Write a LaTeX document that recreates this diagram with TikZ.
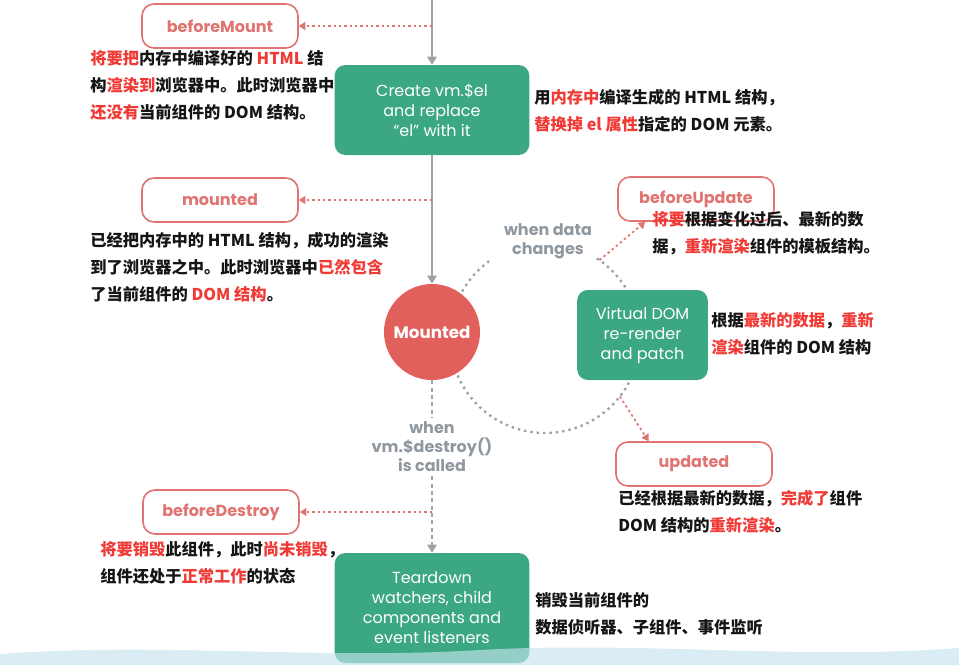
\documentclass[tikz,border=0pt]{standalone}
\usepackage{fontspec}
\setmainfont{Poppins}
\newfontfamily\cjk{Noto Sans CJK SC}
\usetikzlibrary{arrows.meta,positioning}

\definecolor{stagegreen}{HTML}{3CA881}
\definecolor{momentred}{HTML}{E2605B}
\definecolor{hookred}{HTML}{E07470}
\definecolor{hotred}{HTML}{F03A36}
\definecolor{flowgray}{HTML}{9CA3A9}
\definecolor{condgray}{HTML}{8F979F}
\definecolor{notetext}{HTML}{151515}
\definecolor{wavecolor}{HTML}{C6E2EE}

\newcommand\hot[1]{\textcolor{hotred}{#1}}

\begin{document}
\begin{tikzpicture}[x=0.75pt, y=-0.75pt,
    stage/.style={fill=stagegreen, rounded corners=8pt, text=white, align=center,
        minimum width=146pt, minimum height=67.5pt, font=\fontsize{12}{15}\selectfont},
    moment/.style={circle, fill=momentred, text=white, minimum size=72pt, inner sep=0pt,
        font=\bfseries\fontsize{12.5}{15}\selectfont},
    hook/.style={draw=hookred, fill=white, line width=1.2pt, rounded corners=9pt,
        minimum width=117pt, minimum height=33pt, text=hookred,
        font=\bfseries\fontsize{12}{15}\selectfont},
    note/.style={anchor=north west, inner sep=0pt, align=left, text=notetext,
        font=\cjk\bfseries\fontsize{12.2}{20.25}\selectfont},
    cond/.style={text=condgray, align=center, inner sep=3pt,
        font=\bfseries\fontsize{12}{14.25}\selectfont},
    flow/.style={draw=flowgray, line width=1.5pt, -{Triangle[length=6pt,width=7pt]}},
    gone/.style={draw=flowgray, line width=1.2pt, dash pattern=on 3pt off 2.5pt},
    hookline/.style={draw=hookred, line width=1.3pt, dash pattern=on 1.8pt off 2.2pt,
        -{Triangle[length=5pt,width=6pt]}},
    loopline/.style={draw=flowgray, line width=1.8pt, dash pattern=on 1.8pt off 3pt}]

    \useasboundingbox (0,0) rectangle (959,665);

    % data-change cycle round Mounted and re-render
    \coordinate (cyc) at (545,338);
    \draw[loopline] (cyc) ++(126:71.25pt) arc[start angle=126, end angle=419, radius=71.25pt];
    \path (cyc) ++(55:71.25pt) coordinate (cycup);
    \path (cyc) ++(-38:71.25pt) coordinate (cycdown);
    \node[cond] (datachange) at (548,241) {when data\\changes};

    % stages
    \node[stage] (create) at (432,110) {Create vm.\$el\\and replace\\“el” with it};
    \node[moment] (mounted) at (432,332) {Mounted};
    \node[stage, minimum width=98pt] (vdom) at (642.5,335) {Virtual DOM\\re-render\\and patch};
    \node[stage, minimum height=82.5pt] (teardown) at (432,608) {Teardown\\watchers, child\\components and\\event listeners};
    \node[cond] (destroy) at (432,447) {when\\vm.\$destroy()\\is called};

    % main flow
    \coordinate (start) at (432,0);
    \draw[flow] (start) -- (create);
    \draw[flow] (create) -- (mounted);
    \draw[gone] (mounted) -- (destroy);
    \draw[gone, -{Triangle[length=6pt,width=7pt]}] (destroy) -- (teardown);

    % lifecycle hooks
    \node[hook] (beforeMount) at (220,26) {beforeMount};
    \node[hook] (mountedhook) at (220,200) {mounted};
    \node[hook] (beforeUpdate) at (696,199) {beforeUpdate};
    \node[hook] (updated) at (694,464) {updated};
    \node[hook] (beforeDestroy) at (221,512) {beforeDestroy};

    \coordinate (bmsrc) at (432,26);
    \coordinate (mtsrc) at (432,200);
    \coordinate (bdsrc) at (432,512);
    \draw[hookline] (bmsrc) -- (beforeMount);
    \draw[hookline] (mtsrc) -- (mountedhook);
    \draw[hookline] (bdsrc) -- (beforeDestroy);
    \draw[hookline] (cycup) -- ([xshift=21pt]beforeUpdate.south west);
    \draw[hookline] (cycdown) -- ([xshift=25pt]updated.north west);

    % notes
    \node[note] (bmnote) at (90,50) {\hot{将要把}内存中编译好的 \hot{HTML} 结\\构\hot{渲染到}浏览器中。此时浏览器中\\\hot{还没有}当前组件的 DOM 结构。};
    \node[note] (crnote) at (534,89) {用\hot{内存中}编译生成的 HTML 结构，\\\hot{替换掉 el 属性}指定的 DOM 元素。};
    \node[note] (mtnote) at (90,232) {已经把内存中的 HTML 结构，成功的渲染\\到了浏览器之中。此时浏览器中\hot{已然包含}\\了当前组件的 \hot{DOM 结构}。};
    \node[note] (bunote) at (652,211) {\hot{将要}根据变化过后、最新的数\\据，\hot{重新渲染}组件的模板结构。};
    \node[note] (vdnote) at (711,312) {根据\hot{最新的数据}，\hot{重新}\\\hot{渲染}组件的 DOM 结构};
    \node[note] (upnote) at (618,490) {已经根据最新的数据，\hot{完成了}组件\\DOM 结构的\hot{重新渲染}。};
    \node[note] (bdnote) at (100,541) {\hot{将要销毁}此组件，此时\hot{尚未销毁}，\\组件还处于\hot{正常工作}的状态};
    \node[note] (tdnote) at (535,592) {销毁当前组件的\\数据侦听器、子组件、事件监听};

    % wave at the foot
    \fill[wavecolor, opacity=0.65] (0,665) -- (0,654) .. controls (160,642) and (320,660) .. (480,650)
        .. controls (640,641) and (800,660) .. (959,648) -- (959,665) -- cycle;
\end{tikzpicture}
\end{document}
